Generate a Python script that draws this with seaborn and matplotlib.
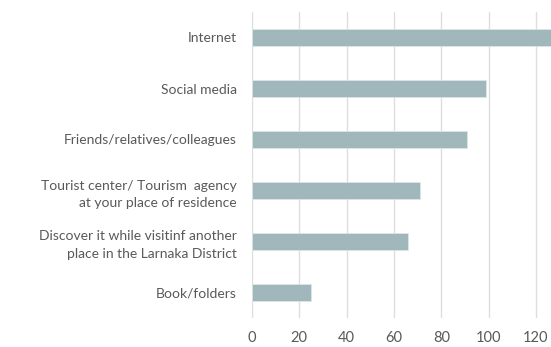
import pandas as pd
import seaborn as sns
import matplotlib.pyplot as plt

# data
sources = [
    "Internet",
    "Social media",
    "Friends/relatives/colleagues",
    "Tourist center/ Tourism  agency\nat your place of residence",
    "Discover it while visitinf another\nplace in the Larnaka District",
    "Book/folders",
]
counts = [130, 99, 91, 71, 66, 25]
x_ticks = [0, 20, 40, 60, 80, 100, 120]

df = pd.DataFrame({"source": sources, "count": counts})

sns.set_theme(style="white")
plt.rcParams["font.family"] = ["Lato", "DejaVu Sans"]

fig = plt.figure(figsize=(5.51, 3.47), dpi=100)
ax = fig.add_axes([252 / 551, 29 / 347, 300 / 551, 306 / 347])

sns.barplot(data=df, x="count", y="source", color="#A0B8BB", width=0.34,
            saturation=1, edgecolor="#dde6e7", linewidth=0.6, ax=ax, zorder=2)

ax.set_xlim(0, 126.8)
ax.set_ylim(5.5, -0.5)
ax.set_xticks(x_ticks)
ax.xaxis.grid(True, color="#dedede", linewidth=1, zorder=0)
ax.set_axisbelow(True)
for s in ax.spines.values():
    s.set_visible(False)
ax.tick_params(axis="both", length=0, labelsize=10, labelcolor="#595959")
ax.tick_params(axis="y", pad=11)
ax.tick_params(axis="x", labelsize=10.5, pad=9)
for lbl in ax.get_yticklabels():
    lbl.set_linespacing(1.55)
ax.set_xlabel("")
ax.set_ylabel("")

fig.savefig("out.png", dpi=100)
